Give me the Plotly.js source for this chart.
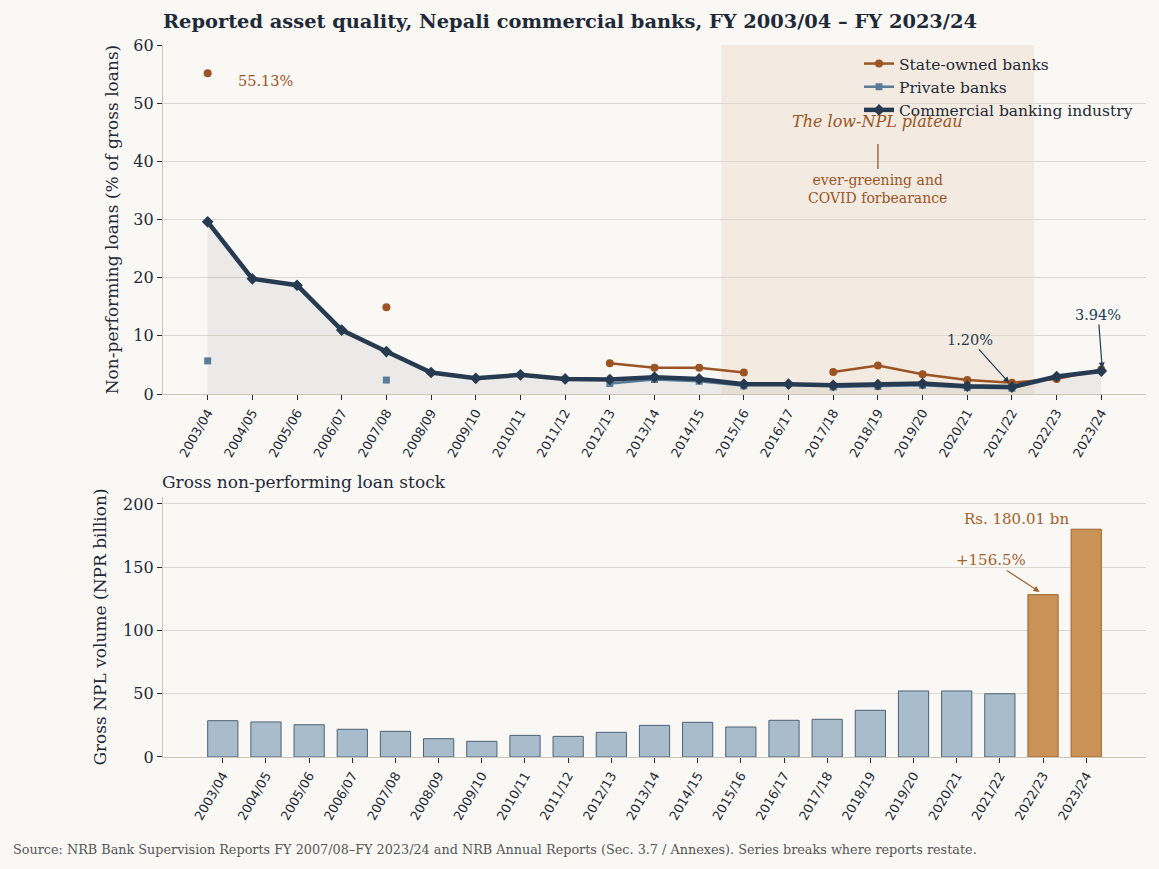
<!DOCTYPE html>
<html>
<head>
<meta charset="utf-8">
<script src="https://cdn.plot.ly/plotly-3.0.1.min.js"></script>
<style>
html, body { margin: 0; padding: 0; background: #f9f8f5; }
#chart { width: 1159px; height: 869px; }
</style>
</head>
<body>
<div id="chart"></div>
<script>
// Fiscal years shared by both panels.
const years = ['2003/04', '2004/05', '2005/06', '2006/07', '2007/08', '2008/09', '2009/10',
  '2010/11', '2011/12', '2012/13', '2013/14', '2014/15', '2015/16', '2016/17', '2017/18',
  '2018/19', '2019/20', '2020/21', '2021/22', '2022/23', '2023/24'];

// NPL ratio, % of gross loans (null = not reported).
const npl_state = [55.13, null, null, null, 14.9, null, null, null, null, 5.3, 4.5, 4.5, 3.7,
  null, 3.8, 4.9, 3.4, 2.4, 1.95, 2.6, 4.2];
const npl_private = [5.7, null, null, null, 2.4, null, null, null, null, 1.8, 2.5, 2.2, 1.4,
  null, 1.2, 1.3, 1.5, 1.1, 1.0, null, null];
const npl_industry = [29.6, 19.8, 18.7, 11.0, 7.3, 3.7, 2.7, 3.3, 2.6, 2.5, 2.9, 2.6, 1.7,
  1.7, 1.5, 1.6, 1.8, 1.35, 1.20, 3.0, 3.94];

// Gross NPL stock, NPR billion.
const npl_stock = [28.7, 27.7, 25.5, 21.9, 20.3, 14.5, 12.4, 17.1, 16.3, 19.5, 25.0, 27.4, 23.7,
  29.0, 29.8, 36.9, 52.2, 52.2, 50.0, 128.3, 180.01];
const highlight_years = ['2022/23', '2023/24'];

const serif = 'DejaVu Serif';
const sans = 'DejaVu Sans';
const ink = '#1f2937';
const rust = '#9c5424';
const bg = '#f9f8f5';

// Bar colours: highlight the jump years.
let bar_fill = years.map(y => highlight_years.includes(y) ? '#c99256' : '#a9bccb');
let bar_line = years.map(y => highlight_years.includes(y) ? '#a3612c' : '#4d6276');

let traces = [
  // Shaded area under the industry ratio.
  {
    x: years, y: npl_industry, xaxis: 'x', yaxis: 'y',
    type: 'scatter', mode: 'none', fill: 'tozeroy',
    fillcolor: 'rgba(120,120,120,0.10)', showlegend: false, hoverinfo: 'skip'
  },
  {
    x: years, y: npl_state, xaxis: 'x', yaxis: 'y',
    type: 'scatter', mode: 'lines+markers', name: 'State-owned banks',
    line: {color: rust, width: 2.5}, marker: {symbol: 'circle', size: 8, color: rust},
    connectgaps: false
  },
  {
    x: years, y: npl_private, xaxis: 'x', yaxis: 'y',
    type: 'scatter', mode: 'lines+markers', name: 'Private banks',
    line: {color: '#5b7c99', width: 2.5}, marker: {symbol: 'square', size: 7, color: '#5b7c99'},
    connectgaps: false
  },
  {
    x: years, y: npl_industry, xaxis: 'x', yaxis: 'y',
    type: 'scatter', mode: 'lines+markers', name: 'Commercial banking industry',
    line: {color: '#263b51', width: 4.5}, marker: {symbol: 'diamond', size: 9, color: '#263b51'}
  },
  {
    x: years, y: npl_stock, xaxis: 'x2', yaxis: 'y2',
    type: 'bar', width: 0.7, showlegend: false,
    marker: {color: bar_fill, line: {color: bar_line, width: 1}}
  }
];

let xaxis_common = {
  type: 'category',
  categoryorder: 'array',
  categoryarray: years,
  tickangle: -60,
  tickfont: {family: sans, size: 12.8, color: ink},
  ticks: 'outside', ticklen: 5, tickcolor: ink,
  showline: true, linecolor: '#cdc5b8', linewidth: 1.3,
  showgrid: false, zeroline: false
};

let yaxis_common = {
  tickfont: {family: serif, size: 16, color: ink},
  ticks: 'outside', ticklen: 5, tickcolor: ink,
  showline: true, linecolor: '#cdc5b8', linewidth: 1.3,
  showgrid: true, gridcolor: '#ddd8cf', gridwidth: 1,
  zeroline: false
};

let layout = {
  width: 1159, height: 869,
  paper_bgcolor: bg, plot_bgcolor: bg,
  margin: {l: 163, r: 13, t: 45, b: 112},
  font: {family: serif, color: ink},
  title: {
    text: '<b>Reported asset quality, Nepali commercial banks, FY 2003/04 – FY 2023/24</b>',
    font: {family: serif, size: 19.4, color: ink},
    x: 163 / 1159, xanchor: 'left', y: 1 - 21 / 869, yanchor: 'middle'
  },
  xaxis: Object.assign({}, xaxis_common, {anchor: 'y', range: [-1, 21]}),
  yaxis: Object.assign({}, yaxis_common, {
    domain: [0.5098, 1], range: [0, 60], dtick: 10,
    title: {text: 'Non-performing loans (% of gross loans)', font: {family: serif, size: 17, color: ink}, standoff: 10}
  }),
  xaxis2: Object.assign({}, xaxis_common, {anchor: 'y2', range: [-1.385, 21.385]}),
  yaxis2: Object.assign({}, yaxis_common, {
    domain: [0, 0.3652], range: [0, 205.5], dtick: 50,
    title: {text: 'Gross NPL volume (NPR billion)', font: {family: serif, size: 17, color: ink}, standoff: 12}
  }),
  legend: {
    x: 1 - 8 / 983, xanchor: 'right', y: 1 - 2 / 712, yanchor: 'top',
    bgcolor: 'rgba(0,0,0,0)', font: {family: serif, size: 15.5, color: ink},
    tracegroupgap: 0
  },
  shapes: [
    // The low-NPL plateau band.
    {type: 'rect', xref: 'x', yref: 'y domain', x0: 11.5, x1: 18.5, y0: 0, y1: 1,
      fillcolor: '#f3ebe1', line: {width: 0}, layer: 'below'},
    {type: 'line', xref: 'x', yref: 'y', x0: 15, x1: 15, y0: 43, y1: 38.7,
      line: {color: rust, width: 1.3}}
  ],
  annotations: [
    {xref: 'x', yref: 'y', x: 0.72, y: 53.8, xanchor: 'left', xshift: -4, showarrow: false,
      text: '55.13%', font: {family: serif, size: 14.5, color: rust}},
    {xref: 'x', yref: 'y', x: 15, y: 46.9, showarrow: false,
      text: '<i>The low-NPL plateau</i>', font: {family: serif, size: 16, color: rust}},
    {xref: 'x', yref: 'y', x: 15, y: 35.3, showarrow: false,
      text: 'ever-greening and<br>COVID forbearance', font: {family: serif, size: 14, color: rust}},
    {xref: 'x', yref: 'y', axref: 'x', ayref: 'y', x: 17.94, y: 1.9, ax: 17.07, ay: 9.3,
      text: '1.20%', font: {family: serif, size: 14.5, color: '#263b51'},
      showarrow: true, arrowhead: 2, arrowsize: 1, arrowwidth: 1.2, arrowcolor: '#263b51'},
    {xref: 'x', yref: 'y', axref: 'x', ayref: 'y', x: 20.02, y: 4.4, ax: 19.93, ay: 13.6,
      text: '3.94%', font: {family: serif, size: 14.5, color: '#263b51'},
      showarrow: true, arrowhead: 2, arrowsize: 1, arrowwidth: 1.2, arrowcolor: '#263b51'},
    {xref: 'paper', yref: 'y2 domain', x: 0, y: 1, xanchor: 'left', yanchor: 'bottom', yshift: 3, xshift: -3,
      showarrow: false, text: 'Gross non-performing loan stock',
      font: {family: serif, size: 17, color: ink}},
    {xref: 'x2', yref: 'y2', x: 18.39, y: 188, showarrow: false,
      text: 'Rs. 180.01 bn', font: {family: serif, size: 15, color: '#a3612c'}},
    {xref: 'x2', yref: 'y2', axref: 'x2', ayref: 'y2', x: 18.92, y: 130.5, ax: 17.79, ay: 155.7,
      text: '+156.5%', font: {family: serif, size: 15, color: '#a3612c'},
      showarrow: true, arrowhead: 2, arrowsize: 1, arrowwidth: 1.2, arrowcolor: '#a3612c'},
    {xref: 'paper', yref: 'paper', x: -152 / 983, y: -(849 - 757) / 712, xanchor: 'left', yanchor: 'middle',
      showarrow: false,
      text: 'Source: NRB Bank Supervision Reports FY 2007/08–FY 2023/24 and NRB Annual Reports (Sec. 3.7 / Annexes). Series breaks where reports restate.',
      font: {family: serif, size: 12.8, color: '#555555'}}
  ]
};

let config = {displayModeBar: false, responsive: false};

Plotly.newPlot('chart', traces, layout, config);
</script>
</body>
</html>
